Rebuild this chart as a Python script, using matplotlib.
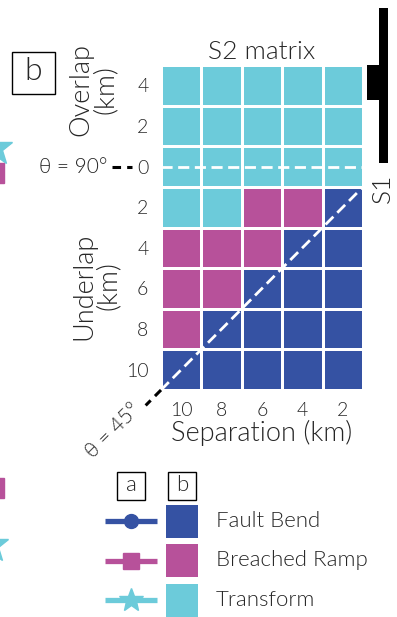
import os

import matplotlib
matplotlib.use("Agg")
import matplotlib.pyplot as plt
import numpy as np
from matplotlib import font_manager as fm
from matplotlib.colors import ListedColormap
from matplotlib.patches import Rectangle

plt.rcParams["font.family"] = ["Lato", "DejaVu Sans"]

# prefer the light cut of Lato when it is installed
_light = [f.fname for f in fm.fontManager.ttflist
          if os.path.basename(f.fname).lower() == "lato-light.ttf"]
FP = fm.FontProperties(fname=_light[0]) if _light else fm.FontProperties(family="Lato")

TEXT = "#262626"

# S2 matrix: columns are step-over separation, rows go from overlap to underlap
separation = [10, 8, 6, 4, 2]
offset_labels = ["4", "2", "0", "2", "4", "6", "8", "10"]
regimes = ["Fault Bend", "Breached Ramp", "Transform"]
regime_colors = ["#3552a3", "#b7519a", "#6ccbda"]
regime_markers = ["o", "s", "*"]

# F = fault bend, B = breached ramp, T = transform
matrix_rows = [
    "TTTTT",
    "TTTTT",
    "TTTTT",
    "TTBBF",
    "BBBFF",
    "BBFFF",
    "BFFFF",
    "FFFFF",
]

W, H = 397, 617
fig = plt.figure(figsize=(W / 100, H / 100), dpi=100)


def px_box(x0, y0, x1, y1):
    return [x0 / W, 1 - y1 / H, (x1 - x0) / W, (y1 - y0) / H]


code = {"F": 0, "B": 1, "T": 2}
grid = np.array([[code[c] for c in row] for row in matrix_rows])

ax = fig.add_axes(px_box(161, 65, 363, 390))
ax.pcolormesh(grid, cmap=ListedColormap(regime_colors), vmin=-0.5, vmax=2.5,
              edgecolors="white", linewidth=1.8)
ax.set_xlim(0, len(separation))
ax.set_ylim(len(offset_labels), 0)
for s in ax.spines.values():
    s.set_visible(False)
ax.set_xticks(np.arange(len(separation)) + 0.5)
ax.set_xticklabels([str(v) for v in separation])
ax.set_yticks(np.arange(len(offset_labels)) + 0.5)
ax.set_yticklabels(offset_labels)
ax.tick_params(length=0, colors=TEXT, pad=9)
for lab in ax.get_xticklabels() + ax.get_yticklabels():
    lab.set_fontproperties(FP)
    lab.set_fontsize(14)
ax.set_xlabel("Separation (km)", fontproperties=FP, fontsize=19.5, color=TEXT,
              labelpad=0)
ax.set_title("S2 matrix", fontproperties=FP, fontsize=19, color=TEXT, pad=4)

# theta = 90 (zero offset) and theta = 45 guide lines
n_rows = len(offset_labels)
zero_row = offset_labels.index("0") + 0.5
dash = (0, (4, 2))
ax.plot([0, len(separation)], [zero_row, zero_row], color="white", lw=2, ls=dash)
ax.plot([0, len(separation)], [n_rows, n_rows - len(separation)], color="white",
        lw=2, ls=dash)
ax.plot([-1.21, -0.72], [zero_row, zero_row], color="black", lw=2.2,
        ls=(0, (2.8, 2)), clip_on=False)
ax.plot([0, -0.38], [n_rows, n_rows + 0.38], color="black", lw=2.2,
        ls=(0, (2.8, 2)), clip_on=False)

# overlay in pixel coordinates for labels and legend
ov = fig.add_axes([0, 0, 1, 1], facecolor="none")
ov.set_xlim(0, W)
ov.set_ylim(H, 0)
ov.axis("off")


def label(x, y, s, size, **kw):
    ov.text(x, y, s, fontproperties=FP, fontsize=size, color=TEXT, **kw)


label(107, 167, "θ = 90°", 15, ha="right", va="center")
label(113, 431, "θ = 45°", 15, ha="center", va="center", rotation=45)
label(93, 90, "Overlap\n(km)", 19.5, ha="center", va="center", rotation=90,
      linespacing=1.0)
label(96, 286, "Underlap\n(km)", 19.5, ha="center", va="center", rotation=90,
      linespacing=1.0)

# panel label
ov.add_patch(Rectangle((12, 52), 43, 42, fill=False, ec="black", lw=1))
label(33.5, 72, "b", 23, ha="center", va="center")

# S1 fault trace
ov.add_patch(Rectangle((379, 8), 9, 155, color="black", lw=0))
ov.add_patch(Rectangle((367, 65), 21, 35, color="black", lw=0))
label(383, 188, "S1", 19, ha="center", va="center", rotation=90)

# edges of panel a markers
ov.plot([-5], [148], marker="*", ms=26, color=regime_colors[2], lw=0)
ov.plot([-6], [173], marker="s", ms=14, color=regime_colors[1], lw=0)
ov.plot([-6], [488], marker="s", ms=14, color=regime_colors[1], lw=0)
ov.plot([-9], [545], marker="*", ms=26, color=regime_colors[2], lw=0)

# legend
for x0, lab in [(117, "a"), (168, "b")]:
    ov.add_patch(Rectangle((x0, 472), 28, 28, fill=False, ec="black", lw=1))
    label(x0 + 14, 485, lab, 16, ha="center", va="center")

marker_sizes = [10, 12, 18]
for i, (name, col, mk) in enumerate(zip(regimes, regime_colors, regime_markers)):
    yc = 521 + 39.5 * i
    ov.plot([105, 157], [yc, yc], color=col, lw=3.8, solid_capstyle="butt")
    ov.plot([131], [yc], marker=mk, ms=marker_sizes[i], color=col, lw=0)
    ov.add_patch(Rectangle((166, yc - 16.5), 32, 33, color=col, lw=0))
    label(216, yc, name, 16, ha="left", va="center")

fig.savefig("out.png", dpi=100)
